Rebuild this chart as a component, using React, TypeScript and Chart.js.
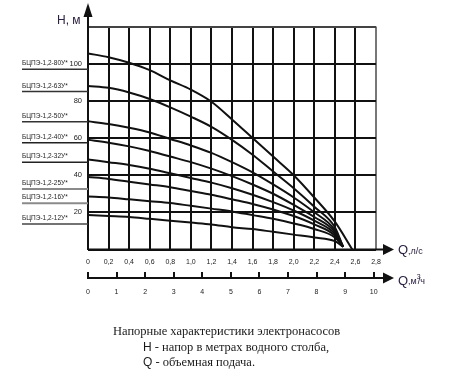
import { useEffect, useRef } from "react";
import { Chart, registerables } from "chart.js";

Chart.register(...registerables);

// Flow rate, l/s (sampled at grid columns)
const flowLs = [0, 0.2, 0.4, 0.6, 0.8, 1.0, 1.2, 1.4, 1.6, 1.8, 2.0, 2.2, 2.4];
// Axis tick values
const qTicks = [0, 0.2, 0.4, 0.6, 0.8, 1.0, 1.2, 1.4, 1.6, 1.8, 2.0, 2.2, 2.4, 2.6, 2.8];
const m3hTicks = [0, 1, 2, 3, 4, 5, 6, 7, 8, 9, 10];
const hTicks = [0, 20, 40, 60, 80, 100, 120];

// Pump models (top to bottom)
const pumpNames = [
  "БЦПЭ-1,2-80У*",
  "БЦПЭ-1,2-63У*",
  "БЦПЭ-1,2-50У*",
  "БЦПЭ-1,2-40У*",
  "БЦПЭ-1,2-32У*",
  "БЦПЭ-1,2-25У*",
  "БЦПЭ-1,2-16У*",
  "БЦПЭ-1,2-12У*",
];

// Head, m at each flowLs value
const head80 = [105.5, 103.5, 100.5, 96.5, 91, 86, 79.5, 70, 60, 50, 40, 28, 15];
const head63 = [88, 87, 84.5, 81, 76.5, 71.5, 66, 59, 51, 42, 33, 23, 12];
const head50 = [69, 67.5, 65.5, 63, 59.5, 56, 52, 47, 41.5, 35, 28, 20, 10.5];
const head40 = [59, 57.5, 55.5, 53, 50, 47, 43.5, 39.5, 35, 30, 24, 17.5, 9.5];
const head32 = [48.5, 47, 45.5, 43.5, 41, 38.5, 36, 33, 29.5, 25.5, 21, 15.5, 8.5];
const head25 = [39, 38, 36.5, 35, 33.5, 31.5, 29.5, 27, 24.5, 21.5, 18, 13.5, 7.5];
const head16 = [28.5, 28, 27, 26, 25, 23.5, 22, 20.5, 18.5, 16.5, 14, 11, 6.5];
const head12 = [18.5, 18, 17.5, 16.5, 15.5, 14.5, 13.5, 12, 11, 9.5, 8, 6.5, 4.5];

// End point of each curve (Q, H)
const endQ = [2.57, 2.48, 2.48, 2.48, 2.48, 2.48, 2.48, 2.48];
const endH = [0, 1.5, 1.5, 1.5, 1.5, 1.5, 1.5, 1.5];

// Head level of the underline drawn below each model label
const labelLineH = [97, 85, 68.8, 57.5, 46.9, 32.6, 24.9, 13.7];

const heads = [head80, head63, head50, head40, head32, head25, head16, head12];
const labelLineColors = ["#333", "#333", "#333", "#222", "#222", "#8a8a8a", "#8a8a8a", "#444"];

const INK = "#111";
const TEXT = "#222";
const TITLE = "#2b2140";

function arrowRight(ctx: CanvasRenderingContext2D, tipX: number, y: number) {
  ctx.beginPath();
  ctx.moveTo(tipX, y);
  ctx.lineTo(tipX - 11, y - 5.5);
  ctx.lineTo(tipX - 11, y + 5.5);
  ctx.closePath();
  ctx.fill();
}

const decorPlugin = {
  id: "decor",
  afterDraw(chart: any) {
    const { ctx, chartArea, scales } = chart;
    const xs = scales.x;
    const ys = scales.y;
    const x2 = scales.x2;
    const x0 = xs.getPixelForValue(0);
    const yb = ys.getPixelForValue(0);
    const xEnd = chartArea.right + 18;
    ctx.save();
    ctx.strokeStyle = INK;
    ctx.fillStyle = INK;
    ctx.lineWidth = 2;

    // vertical axis with arrow
    ctx.beginPath();
    ctx.moveTo(x0, yb);
    ctx.lineTo(x0, 14);
    ctx.stroke();
    ctx.beginPath();
    ctx.moveTo(x0, 3);
    ctx.lineTo(x0 - 4.5, 17);
    ctx.lineTo(x0 + 4.5, 17);
    ctx.closePath();
    ctx.fill();

    // Q l/s axis line with arrow
    ctx.beginPath();
    ctx.moveTo(x0, yb);
    ctx.lineTo(xEnd - 8, yb);
    ctx.stroke();
    arrowRight(ctx, xEnd, yb);

    // Q m3/h axis line with arrow
    const y2 = x2.top + 6.5;
    ctx.beginPath();
    ctx.moveTo(x0 - 1, y2);
    ctx.lineTo(xEnd - 8, y2);
    ctx.stroke();
    arrowRight(ctx, xEnd, y2);

    // axis titles
    ctx.fillStyle = TITLE;
    ctx.textBaseline = "middle";
    ctx.textAlign = "left";
    ctx.font = "12px 'Liberation Sans', Arial, sans-serif";
    ctx.fillText("H, м", 57, 21);

    const qx = xEnd + 4;
    ctx.font = "13px 'Liberation Sans', Arial, sans-serif";
    ctx.fillText("Q", qx, yb + 1);
    let w = ctx.measureText("Q").width;
    ctx.font = "9px 'Liberation Sans', Arial, sans-serif";
    ctx.fillText(",л/с", qx + w, yb + 2);

    ctx.font = "13px 'Liberation Sans', Arial, sans-serif";
    ctx.fillText("Q", qx, y2 + 3);
    ctx.font = "9px 'Liberation Sans', Arial, sans-serif";
    ctx.fillText(",м", qx + w, y2 + 4);
    const wm = ctx.measureText(",м").width;
    ctx.font = "7px 'Liberation Sans', Arial, sans-serif";
    ctx.fillText("3", qx + w + wm, y2 - 1);
    ctx.font = "9px 'Liberation Sans', Arial, sans-serif";
    ctx.fillText("/ч", qx + w + wm + 1, y2 + 4);

    // model labels with underlines
    ctx.font = "6.5px 'Liberation Sans', Arial, sans-serif";
    ctx.textBaseline = "alphabetic";
    pumpNames.forEach((name, i) => {
      const yy = ys.getPixelForValue(labelLineH[i]);
      ctx.strokeStyle = labelLineColors[i];
      ctx.lineWidth = labelLineColors[i] === "#8a8a8a" ? 2 : 1.5;
      ctx.beginPath();
      ctx.moveTo(22, yy);
      ctx.lineTo(x0, yy);
      ctx.stroke();
      ctx.fillStyle = TEXT;
      ctx.fillText(name, 22, yy - 4);
    });
    ctx.restore();
  },
};

const fmtQ = (v: number) => (v === 0 ? "0" : v.toFixed(1).replace(".", ","));

export default function App() {
  const ref = useRef<HTMLCanvasElement | null>(null);

  useEffect(() => {
    if (!ref.current) return;
    const datasets = heads.map((h, k) => ({
      label: pumpNames[k],
      data: flowLs.map((q, i) => ({ x: q, y: h[i] })).concat([{ x: endQ[k], y: endH[k] }]),
      borderColor: INK,
      borderWidth: 2,
      pointRadius: 0,
      fill: false,
      cubicInterpolationMode: "monotone" as const,
      xAxisID: "x",
      yAxisID: "y",
    }));

    const font = { family: "'Liberation Sans', Arial, sans-serif", size: 7 };

    const chart = new Chart(ref.current, {
      type: "line",
      data: { datasets },
      options: {
        responsive: false,
        animation: false,
        layout: { padding: { left: 0, top: 26.5, right: 77, bottom: 75.5 } },
        plugins: { legend: { display: false }, tooltip: { enabled: false } },
        scales: {
          x: {
            type: "linear",
            position: "bottom",
            weight: 0,
            min: 0,
            max: 2.8,
            afterBuildTicks: (s: any) => {
              s.ticks = qTicks.map((v) => ({ value: v }));
            },
            afterFit: (s: any) => {
              s.height = 22;
            },
            ticks: {
              autoSkip: false,
              maxRotation: 0,
              padding: 8,
              color: TEXT,
              font,
              callback: (v: any) => fmtQ(Number(v)),
            },
            grid: {
              color: (c: any) => (c.tick && c.tick.value >= 2.79 ? "#777" : INK),
              lineWidth: 2,
              drawTicks: false,
            },
            border: { display: false },
          },
          x2: {
            type: "linear",
            position: "bottom",
            weight: 1,
            min: 0,
            max: 2.8 * 3.6,
            afterBuildTicks: (s: any) => {
              s.ticks = m3hTicks.map((v) => ({ value: v }));
            },
            afterFit: (s: any) => {
              s.height = 40;
            },
            ticks: {
              autoSkip: false,
              maxRotation: 0,
              padding: 10,
              color: TEXT,
              font,
              callback: (v: any) => String(v),
            },
            grid: {
              drawOnChartArea: false,
              drawTicks: true,
              tickLength: 6,
              tickWidth: 2,
              tickColor: INK,
              lineWidth: 2,
              color: INK,
            },
            border: { display: false },
          },
          y: {
            type: "linear",
            position: "left",
            min: 0,
            max: 120,
            afterBuildTicks: (s: any) => {
              s.ticks = hTicks.map((v) => ({ value: v }));
            },
            afterFit: (s: any) => {
              s.width = 88;
            },
            ticks: {
              padding: 6,
              color: TEXT,
              font: { family: "'Liberation Sans', Arial, sans-serif", size: 7.5 },
              callback: (v: any) => (Number(v) === 0 || Number(v) === 120 ? "" : String(v)),
            },
            grid: {
              color: (c: any) => (c.tick && c.tick.value === 120 ? "#444" : INK),
              lineWidth: 2,
              drawTicks: false,
            },
            border: { display: false },
          },
        },
      },
      plugins: [decorPlugin],
    });
    return () => chart.destroy();
  }, []);

  const serif = "'Liberation Serif', 'Times New Roman', serif";
  const sans = "'Liberation Sans', Arial, sans-serif";
  const line = (top: number, left: number): React.CSSProperties => ({
    position: "absolute",
    top,
    left,
    whiteSpace: "nowrap",
    fontFamily: serif,
    fontSize: 12.5,
    lineHeight: "14px",
    color: "#1a1a1a",
  });

  return (
    <div style={{ position: "absolute", left: 0, top: 0, width: 453, height: 387, background: "#fff" }}>
      <canvas ref={ref} width={453} height={387} style={{ display: "block" }} />
      <div style={line(324, 113)}>Напорные характеристики электронасосов</div>
      <div style={line(340, 143)}>
        <span style={{ fontFamily: sans, fontSize: 12 }}>H</span> - напор в метрах водного столба,
      </div>
      <div style={line(355, 143)}>
        <span style={{ fontFamily: sans, fontSize: 12 }}>Q</span> - объемная подача.
      </div>
    </div>
  );
}
